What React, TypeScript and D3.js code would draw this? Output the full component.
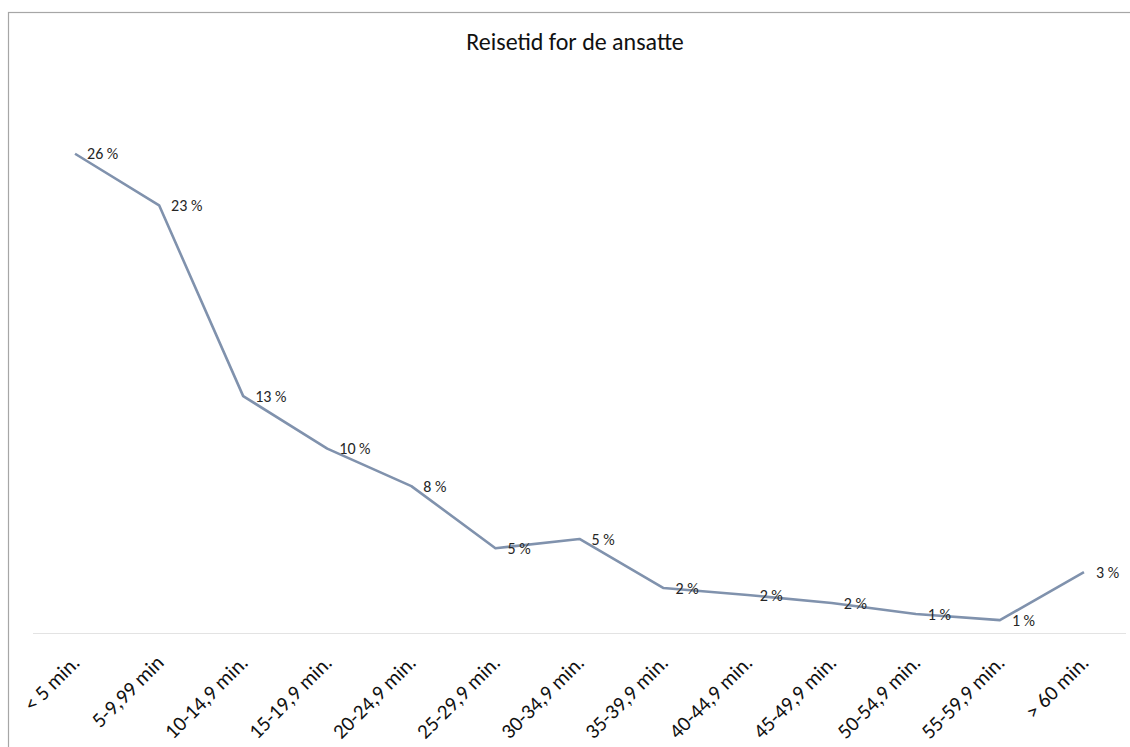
import { useRef, useEffect } from 'react'
import * as d3 from 'd3'

const title = 'Reisetid for de ansatte'
const categories = [
  '< 5 min.',
  '5-9,99 min',
  '10-14,9 min.',
  '15-19,9 min.',
  '20-24,9 min.',
  '25-29,9 min.',
  '30-34,9 min.',
  '35-39,9 min.',
  '40-44,9 min.',
  '45-49,9 min.',
  '50-54,9 min.',
  '55-59,9 min.',
  '> 60 min.',
]
const shares = [26, 23.2, 12.85, 10, 7.97, 4.6, 5.1, 2.44, 2.06, 1.63, 1.03, 0.7, 3.3]
const yMax = 30

const W = 1130
const H = 747
const FONT = 'Carlito, Lato, "Open Sans", sans-serif'

const App = () => {
  const svgRef = useRef<SVGSVGElement>(null)

  useEffect(() => {
    const svg = d3.select(svgRef.current)
    svg.selectAll('*').remove()

    // chart frame (right/bottom edges fall outside the picture)
    svg
      .append('rect')
      .attr('x', 8.5)
      .attr('y', 12.5)
      .attr('width', W + 20)
      .attr('height', H + 20)
      .attr('fill', '#fff')
      .attr('stroke', '#a6a6a6')
      .attr('stroke-width', 1.2)

    svg
      .append('text')
      .text(title)
      .attr('x', 575)
      .attr('y', 50)
      .attr('text-anchor', 'middle')
      .style('font-family', FONT)
      .style('font-size', '24px')
      .style('fill', '#111')

    const x = d3.scaleBand().domain(categories).range([33, 1126]).padding(0)
    const y = d3.scaleLinear().domain([0, yMax]).range([633, 80])
    const cx = (c: string) => (x(c) as number) + x.bandwidth() / 2

    // baseline
    svg
      .append('line')
      .attr('x1', 33)
      .attr('x2', 1126)
      .attr('y1', y(0) + 0.5)
      .attr('y2', y(0) + 0.5)
      .attr('stroke', '#e3e3e3')
      .attr('stroke-width', 1.2)

    const pts = categories.map((c, i) => ({ c, v: shares[i] }))

    const line = d3
      .line<{ c: string; v: number }>()
      .x((d) => cx(d.c))
      .y((d) => y(d.v))

    svg
      .append('path')
      .datum(pts)
      .attr('d', line)
      .attr('fill', 'none')
      .attr('stroke', '#8092ad')
      .attr('stroke-width', 2.6)
      .attr('stroke-linejoin', 'round')

    svg
      .append('g')
      .selectAll('text')
      .data(pts)
      .join('text')
      .text((d) => Math.round(d.v) + ' %')
      .attr('x', (d) => cx(d.c) + 12)
      .attr('y', (d) => y(d.v))
      .attr('dy', '0.35em')
      .style('font-family', FONT)
      .style('font-size', '16px')
      .style('fill', '#262626')

    svg
      .append('g')
      .selectAll('text')
      .data(categories)
      .join('text')
      .text((d) => d)
      .attr('text-anchor', 'end')
      .attr('transform', (d) => `translate(${cx(d) + 6},${664}) rotate(-45)`)
      .style('font-family', FONT)
      .style('font-size', '21px')
      .style('fill', '#111')
  }, [])

  return (
    <svg
      ref={svgRef}
      width={W}
      height={H}
      style={{ position: 'absolute', left: 0, top: 0, background: '#fff' }}
    ></svg>
  )
}

export default App
